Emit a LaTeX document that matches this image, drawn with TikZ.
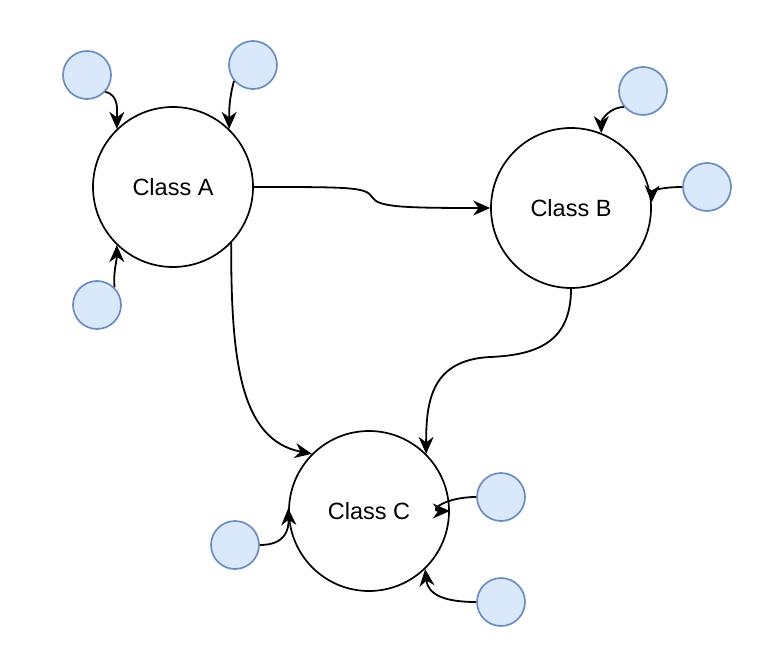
\documentclass[tikz,border=0pt]{standalone}
\usepackage{fontspec}
\setmainfont{Liberation Sans}
\usetikzlibrary{arrows.meta}
\begin{document}
\begin{tikzpicture}[x=1pt,y=-1pt,
  big/.style={circle,draw=black,line width=1.7pt,minimum size=160pt,inner sep=0pt,font=\fontsize{23.5}{27}\selectfont},
  small/.style={circle,draw={rgb,255:red,108;green,142;blue,191},fill={rgb,255:red,218;green,232;blue,252},line width=1.7pt,minimum size=48pt,inner sep=0pt},
  arr/.style={line width=1.8pt,-{Stealth[length=17pt,width=15pt,inset=5.5pt]}}]
\useasboundingbox (0,0) rectangle (768,668);
\node[big] (A) at (173,187) {Class A};
\node[big] (B) at (571,208) {Class B};
\node[big] (C) at (369,511) {Class C};
\node[small] (a1) at (87,75) {};
\node[small] (a2) at (253,65) {};
\node[small] (a3) at (97,305) {};
\node[small] (b1) at (643,91) {};
\node[small] (b2) at (707,187) {};
\node[small] (c1) at (235,545) {};
\node[small] (c2) at (501,497) {};
\node[small] (c3) at (501,602) {};
% satellites
\draw[arr] (a1.-43) to[out=-10,in=90] (A.134);
\draw[arr] (a2.-140) to[out=-105,in=90] (A.46);
\draw[arr] (a3.45) to[out=95,in=-90] (A.-134);
\draw[arr] (b1.-140) to[out=180,in=90] (B.68);
\draw[arr] (b2.west) .. controls (665,187) and (652,190) .. (B.4);
\draw[arr] (c1.east) .. controls (285,545) and (289,530) .. (C.178);
\draw[arr] (c2.west) .. controls (445,497) and (428,511) .. (C.east);
\draw[arr] (c3.west) .. controls (445,602) and (428,595) .. (C.-46);
% main
\draw[arr] (A.east) .. controls (350,187) and (366,187) .. (372,197) .. controls (378,207) and (400,208) .. (B.west);
\draw[arr] (A.-44) .. controls (231,360) and (240,440) .. (C.135);
\draw[arr] (B.south) .. controls (571,340) and (540,355) .. (490,357) .. controls (432,360) and (426,400) .. (C.45);
\end{tikzpicture}
\end{document}
